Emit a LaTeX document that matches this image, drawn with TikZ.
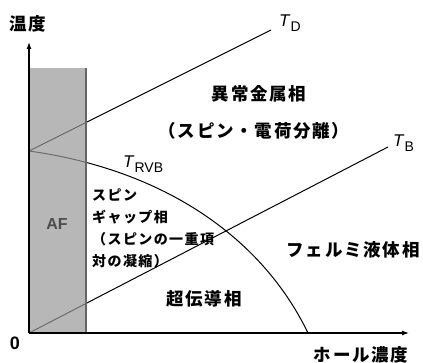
\documentclass[tikz,border=0pt]{standalone}
\usepackage{fontspec}
\setmainfont{Liberation Serif}
\setsansfont{Liberation Sans}
\newfontfamily\jp[LetterSpace=10]{Noto Sans CJK JP}
\usetikzlibrary{arrows.meta}
\tikzset{
 lbl/.style={inner sep=0pt, font=\jp\bfseries\fontsize{17.5}{20}\selectfont},
 smalltxt/.style={inner sep=0pt, align=left, font=\jp\bfseries\fontsize{14}{22}\selectfont},
 axis/.style={line width=1.2pt, -{Latex[length=7pt,width=5pt]}},
 phase/.style={line width=1pt},
 tl/.style={inner sep=0pt, anchor=base west},
}
\newcommand{\tlab}[1]{{\fontsize{17}{17}\selectfont\sffamily\itshape T}\kern1pt\raisebox{-5pt}{\fontsize{14}{14}\selectfont\sffamily #1}}
\begin{document}
\begin{tikzpicture}[x=1pt,y=-1pt]
\useasboundingbox (0,0) rectangle (423,363);
\coordinate (O) at (29,333);
\coordinate (Ytop) at (29,42);
\coordinate (Xend) at (409,333);
\coordinate (D0) at (29,151);
\coordinate (D1) at (271,30);
\coordinate (B1) at (388,147);
\coordinate (R1) at (308,333);
% phase lines
\draw[phase] (D0) -- (D1);
\draw[phase] (O) -- (B1);
\draw[phase] (D0) .. controls (165,170) and (262,238) .. (R1);
% AF band
\fill[black!40, opacity=0.7] (29,68) rectangle (86,333);
\draw[line width=1.2pt, black!60] (86,68) -- (86,333);
% axes
\draw[axis] (O) -- (Ytop);
\draw[axis] (O) -- (Xend);
% labels
\node[lbl] (temp) at (28,24) {温度};
\node[lbl] (hole) at (361,355) {ホール濃度};
\node[inner sep=0pt, font=\sffamily\bfseries\fontsize{18}{18}\selectfont] (zero) at (15,343) {0};
\node[inner sep=0pt, font=\sffamily\bfseries\fontsize{16}{16}\selectfont, text=black!70] (af) at (57,224) {AF};
\node[lbl] (anom) at (259,94) {異常金属相};
\node[lbl] (sep) at (254,131) {（スピン・電荷分離）};
\node[lbl] (sc) at (204,299) {超伝導相};
\node[lbl] (fl) at (353,250) {フェルミ液体相};
\node[smalltxt, anchor=north west] (gap) at (92,189) {スピン\\ギャップ相\\（スピンの一重項\\対の凝縮）};
\node[tl] (TD) at (279,27) {\tlab{D}};
\node[tl] (TB) at (393,147) {\tlab{B}};
\node[tl] (TR) at (123,168) {\tlab{RVB}};
\end{tikzpicture}
\end{document}
